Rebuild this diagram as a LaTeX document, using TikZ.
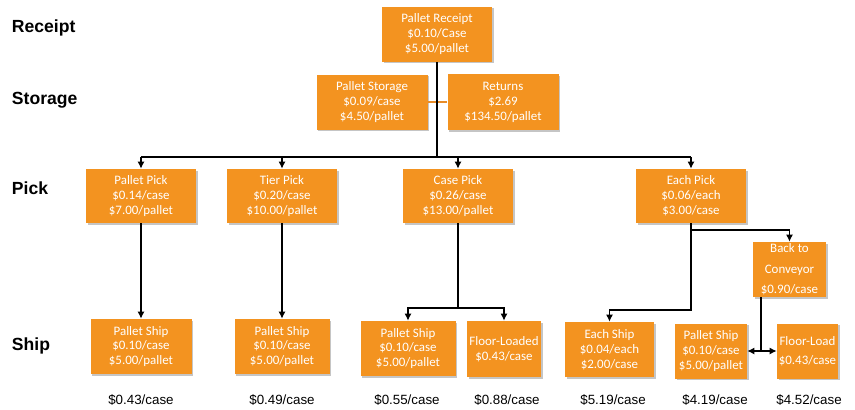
\documentclass[tikz,border=0pt]{standalone}
\usepackage{fontspec}
\setmainfont{Liberation Sans}
\newfontfamily\boxfont{Carlito}
\usetikzlibrary{arrows.meta, shadows}

\begin{document}
\begin{tikzpicture}[x=0.025cm, y=-0.025cm,
  costbox/.style 2 args={fill=boxorange, text=white, align=center,
    font=\boxfont\fontsize{9.2}{10.6}\selectfont, inner sep=1pt,
    minimum width=#1*0.025cm, minimum height=#2*0.025cm,
    drop shadow={shadow xshift=1.2pt, shadow yshift=-1.2pt, fill=black!45, opacity=0.5}},
  level/.style={anchor=west, font=\bfseries\fontsize{12.5}{14}\selectfont},
  total/.style={font=\fontsize{9.5}{11}\selectfont},
  link/.style={draw=black, line width=1pt},
  flow/.style={link, -{Latex[length=5pt,width=5pt]}}]

% Define colors
\definecolor{boxorange}{RGB}{243,147,32}
\definecolor{linkorange}{RGB}{232,140,40}

\useasboundingbox (0,0) rectangle (855,409);

% Level labels
\node[level] (lreceipt) at (7,28) {Receipt};
\node[level] (lstorage) at (7,100) {Storage};
\node[level] (lpick) at (7,188) {Pick};
\node[level] (lship) at (7,346) {Ship};

% Receipt and storage
\node[costbox={110}{55}] (receipt) at (437,34) {Pallet Receipt\\\$0.10/Case\\\$5.00/pallet};
\node[costbox={111}{55}] (storage) at (372,102) {Pallet Storage\\\$0.09/case\\\$4.50/pallet};
\node[costbox={111}{56}] (returns) at (503,102) {Returns\\\$2.69\\\$134.50/pallet};

% Pick level
\node[costbox={110}{54}] (palletpick) at (141,196) {Pallet Pick\\\$0.14/case\\\$7.00/pallet};
\node[costbox={110}{54}] (tierpick) at (282,196) {Tier Pick\\\$0.20/case\\\$10.00/pallet};
\node[costbox={110}{54}] (casepick) at (458,196) {Case Pick\\\$0.26/case\\\$13.00/pallet};
\node[costbox={110}{54}] (eachpick) at (691,196) {Each Pick\\\$0.06/each\\\$3.00/case};
\node[costbox={73}{55}] (conveyor) at (789.5,269.5) {Back to\\[4pt]Conveyor\\[4pt]\$0.90/case};

% Ship level
\node[costbox={101}{55}] (palletship1) at (141,346.5) {Pallet Ship\\\$0.10/case\\\$5.00/pallet};
\node[costbox={95}{55}] (palletship2) at (282,346.5) {Pallet Ship\\\$0.10/case\\\$5.00/pallet};
\node[costbox={95}{55}] (palletship3) at (408,348.5) {Pallet Ship\\\$0.10/case\\\$5.00/pallet};
\node[costbox={74}{56}] (floorloaded) at (504,349) {Floor-Loaded\\\$0.43/case};
\node[costbox={89}{55}] (eachship) at (609.5,349.5) {Each Ship\\\$0.04/each\\\$2.00/case};
\node[costbox={72}{55}] (palletship4) at (711,351) {Pallet Ship\\\$0.10/case\\\$5.00/pallet};
\node[costbox={61}{55}] (floorload) at (807.5,351) {Floor-Load\\[3pt]\$0.43/case};

% Totals
\node[total] (total1) at (141,400) {\$0.43/case};
\node[total] (total2) at (282,400) {\$0.49/case};
\node[total] (total3) at (407,400) {\$0.55/case};
\node[total] (total4) at (507,400) {\$0.88/case};
\node[total] (total5) at (613,400) {\$5.19/case};
\node[total] (total6) at (715,400) {\$4.19/case};
\node[total] (total7) at (809,400) {\$4.52/case};

% Connectors
\coordinate (pickbus) at (437,157);
\coordinate (casebus) at (458,308);
\coordinate (eachsplit) at (691,230);
\coordinate (eachbus) at (691,310);
\coordinate (convbus) at (761,351);

\draw[draw=linkorange, line width=0.8pt] (storage.east) -- (returns.west);
\draw[link] (receipt.south) -- (pickbus);
\draw[link] (palletpick.north |- pickbus) -- (eachpick.north |- pickbus);
\draw[flow] (palletpick.north |- pickbus) -- (palletpick.north);
\draw[flow] (tierpick.north |- pickbus) -- (tierpick.north);
\draw[flow] (casepick.north |- pickbus) -- (casepick.north);
\draw[flow] (eachpick.north |- pickbus) -- (eachpick.north);

\draw[flow] (palletpick.south) -- (palletship1.north);
\draw[flow] (tierpick.south) -- (palletship2.north);
\draw[link] (casepick.south) -- (casebus);
\draw[flow] (casebus) -| (palletship3.north);
\draw[flow] (casebus) -| (floorloaded.north);
\draw[flow] (eachpick.south) -- (eachbus) -| (eachship.north);
\draw[flow] (eachsplit) -| (conveyor.north);
\draw[link] (conveyor.south -| convbus) -- (convbus);
\draw[flow] (convbus) -- (palletship4.east);
\draw[flow] (convbus) -- (floorload.west);

\end{tikzpicture}
\end{document}
